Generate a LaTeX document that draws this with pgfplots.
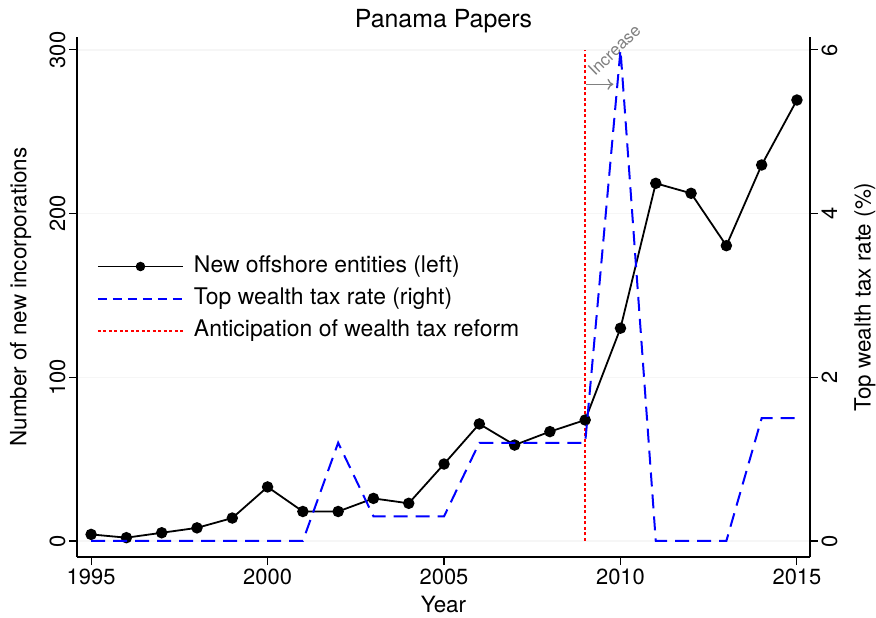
\documentclass[border=0pt]{standalone}
\usepackage{fontspec}
\setmainfont{TeX Gyre Heros}
\usepackage{pgfplots}
\pgfplotsset{compat=1.18}
\usetikzlibrary{arrows.meta}
\begin{document}
\begin{tikzpicture}
\useasboundingbox (-77bp,-61bp) rectangle (799bp,557bp);
\pgfplotsset{
  common/.style={
    scale only axis, width=733bp, height=520bp, at={(0,0)}, anchor=south west,
    xmin=1994.6, xmax=2015.37,
    tick align=outside, major tick length=8bp,
    tick style={black, line width=1.1bp},
    axis line style={black, line width=1.2bp},
    /pgf/number format/assume math mode=true,
    /pgf/number format/1000 sep={},
    tick label style={font=\fontsize{22}{26}\selectfont},
    clip=false,
  }
}
\begin{axis}[common,
  axis x line*=bottom, axis y line*=left,
  ymin=-9.8, ymax=307.9,
  xtick={1995,2000,2005,2010,2015}, ytick={0,100,200,300},
  y tick label style={rotate=90, anchor=south},
  xlabel={Year}, ylabel={Number of new incorporations},
  every axis x label/.style={at={(axis description cs:0.5,-0.092)}, anchor=center, font=\fontsize{22.5}{26}\selectfont},
  every axis y label/.style={at={(axis description cs:-0.077,0.5)}, anchor=center, rotate=90, font=\fontsize{22.5}{26}\selectfont},
  title={Panama Papers},
  every axis title/.style={at={(axis description cs:0.5,1)}, anchor=base, yshift=9bp, font=\fontsize{25}{29}\selectfont},
  ymajorgrids, grid style={gray!7, line width=1.5bp},
]
\addplot[red, line width=2bp, dash pattern=on 3bp off 2.5bp] coordinates {(2009,0) (2009,300)};
\addplot[black, line width=1.8bp, mark=*, mark size=4.8bp] coordinates {
(1995,4) (1996,2) (1997,5) (1998,8) (1999,14) (2000,33) (2001,18) (2002,18)
(2003,26) (2004,23) (2005,47) (2006,71.5) (2007,58.6) (2008,66.8) (2009,73.9)
(2010,130) (2011,218.5) (2012,212.4) (2013,180.4) (2014,229.7) (2015,269.4)};
\draw[-{To[length=6bp,width=11bp]}, gray, line width=1.3bp] (axis cs:2009.03,279) -- (axis cs:2009.8,279);
\node[rotate=44, anchor=base west, text=gray, font=\fontsize{17}{20}\selectfont, inner sep=0pt] at (axis cs:2009.28,283.4) {Increase};
\end{axis}
\begin{axis}[common,
  axis x line=none, axis y line*=right,
  ymin=-0.196, ymax=6.158, ytick={0,2,4,6},
  y tick label style={rotate=90, anchor=north},
  ylabel={Top wealth tax rate (\%)},
  every axis y label/.style={at={(axis description cs:1.075,0.5)}, anchor=center, rotate=90, font=\fontsize{22.5}{26}\selectfont},
  legend style={at={(axis description cs:0.027,0.584)}, anchor=north west, draw=none, fill=none,
    inner sep=0pt, font=\fontsize{23}{27}\selectfont, row sep=6bp,
    nodes={inner ysep=2bp, inner xsep=10bp, text height=17bp, text depth=5bp}},
  legend cell align=left,
  legend image code/.code={\draw[mark repeat=2, mark phase=2, #1] plot coordinates {(0bp,0bp) (42.5bp,0bp) (85bp,0bp)};},
]
\addlegendimage{black, line width=1.8bp, mark=*, mark size=3.8bp}
\addlegendentry{New offshore entities (left)}
\addplot[blue, line width=2bp, dash pattern=on 14bp off 8bp, forget plot] coordinates {
(1995,0) (1996,0) (1997,0) (1998,0) (1999,0) (2000,0) (2001,0) (2002,1.2)
(2003,0.3) (2004,0.3) (2005,0.3) (2006,1.2) (2007,1.2) (2008,1.2) (2009,1.2)
(2010,6) (2011,0) (2012,0) (2013,0) (2014,1.5) (2015,1.5)};
\addlegendimage{blue, line width=2bp, dash pattern=on 9bp off 6bp}
\addlegendentry{Top wealth tax rate (right)}
\addlegendimage{red, line width=2bp, dash pattern=on 3bp off 2.5bp}
\addlegendentry{Anticipation of wealth tax reform}
\end{axis}
\end{tikzpicture}
\end{document}
